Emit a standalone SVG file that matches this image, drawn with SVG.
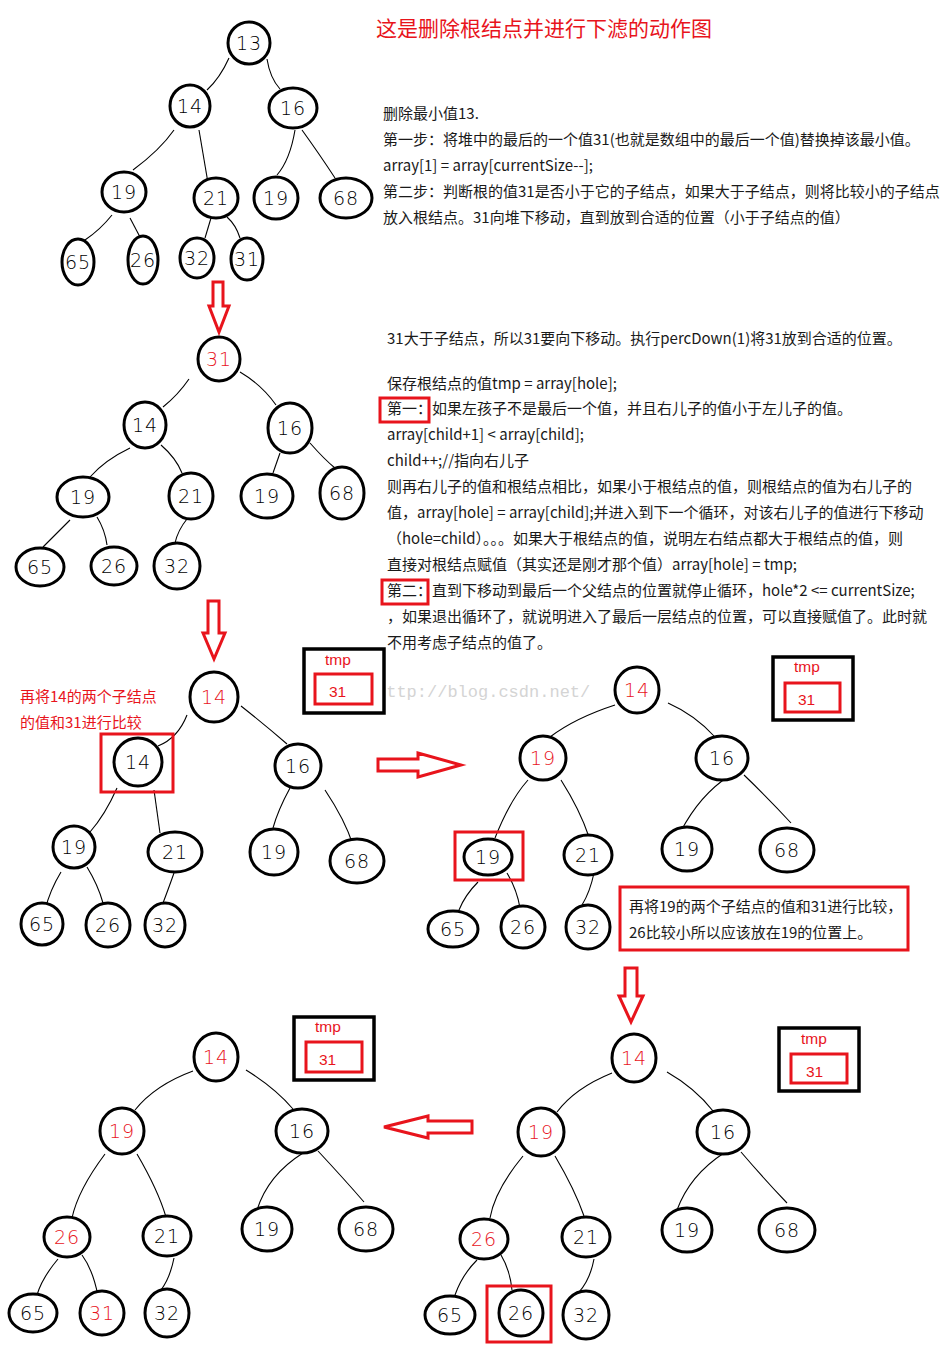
<svg xmlns="http://www.w3.org/2000/svg" width="943" height="1359" viewBox="0 0 943 1359">
<style>
.node ellipse{fill:#fff;stroke:#000;stroke-width:3}
.node text{font-family:"DejaVu Sans","Liberation Sans",sans-serif;font-weight:200;font-size:19px;text-anchor:middle;fill:#000;letter-spacing:1px}
.node text.r{fill:#e8141c}
.edges path{fill:none;stroke:#000;stroke-width:1.1}
.arrow{fill:#fff;stroke:#e8141c;stroke-width:3;stroke-linejoin:miter}
.hl{fill:none;stroke:#e8141c;stroke-width:3}
.tmpbox{fill:#fff;stroke:#000;stroke-width:3.5}
.tmpin{fill:#fff;stroke:#e8141c;stroke-width:3}
.tmpt{font-family:"Liberation Sans","Noto Sans CJK SC",sans-serif;font-size:15.5px;fill:#e8141c}
.txt{font-family:"Noto Sans CJK SC",sans-serif;font-size:15px;fill:#1a1a1a}
.rtxt{font-family:"Noto Sans CJK SC",sans-serif;font-size:15px;fill:#e8141c}
.wm{font-family:"Liberation Mono",monospace;font-size:17px;fill:#d4d4d4}
</style>
<rect width="943" height="1359" fill="#fff"/>
<text class="wm" x="376" y="697">http://blog.csdn.net/</text>
<text x="376" y="36" style="font-family:'Noto Sans CJK SC',sans-serif;font-size:21px;fill:#e8141c">这是删除根结点并进行下滤的动作图</text>
<g id="text-block-1" class="txt">
<text x="383" y="119">删除最小值13.</text>
<text x="383" y="145">第一步：将堆中的最后的一个值31(也就是数组中的最后一个值)替换掉该最小值。</text>
<text x="383" y="171">array[1] = array[currentSize--];</text>
<text x="383" y="197">第二步：判断根的值31是否小于它的子结点，如果大于子结点，则将比较小的子结点</text>
<text x="383" y="223">放入根结点。31向堆下移动，直到放到合适的位置（小于子结点的值）</text>
</g>
<g id="text-block-2" class="txt">
<text x="387" y="344">31大于子结点，所以31要向下移动。执行percDown(1)将31放到合适的位置。</text>
<text x="387" y="389">保存根结点的值tmp = array[hole];</text>
<text x="387" y="414">第一：如果左孩子不是最后一个值，并且右儿子的值小于左儿子的值。</text>
<text x="387" y="440">array[child+1] &lt; array[child];</text>
<text x="387" y="466">child++;//指向右儿子</text>
<text x="387" y="492">则再右儿子的值和根结点相比，如果小于根结点的值，则根结点的值为右儿子的</text>
<text x="387" y="518">值，array[hole] = array[child];并进入到下一个循环，对该右儿子的值进行下移动</text>
<text x="387" y="544">（hole=child）。。。如果大于根结点的值，说明左右结点都大于根结点的值，则</text>
<text x="387" y="570">直接对根结点赋值（其实还是刚才那个值）array[hole] = tmp;</text>
<text x="387" y="596">第二：直到下移动到最后一个父结点的位置就停止循环，hole*2 &lt;= currentSize;</text>
<text x="387" y="622">，如果退出循环了，就说明进入了最后一层结点的位置，可以直接赋值了。此时就</text>
<text x="387" y="648">不用考虑子结点的值了。</text>
<rect class="hl" x="380" y="398" width="49" height="24"/>
<rect class="hl" x="382" y="580" width="46" height="24"/>
</g>
<g id="note-1" class="rtxt">
<text x="20" y="702">再将14的两个子结点</text>
<text x="20" y="728">的值和31进行比较</text>
</g>
<g id="note-2">
<rect class="hl" x="620" y="887" width="288" height="63"/>
<text class="txt" x="629" y="912">再将19的两个子结点的值和31进行比较，</text>
<text class="txt" x="629" y="938">26比较小所以应该放在19的位置上。</text>
</g>
<g id="arrows">
<polygon class="arrow" points="213,282 223,282 223,306 229,306 219,332 209,306 213,306"/>
<polygon class="arrow" points="208,601 219,601 219,633 225,633 214,659 203,633 208,633"/>
<polygon class="arrow" points="625,968 637,968 637,996 643,996 631,1022 619,996 625,996"/>
<polygon class="arrow" points="378,759 418,759 418,753 461,765 418,777 418,771 378,771"/>
<polygon class="arrow" points="472,1121 428,1121 428,1116 384,1127 428,1138 428,1133 472,1133"/>
</g>
<g id="tmp-1"><rect class="tmpbox" x="304" y="649" width="80" height="64"/><rect class="tmpin" x="315" y="674" width="57" height="30"/><text class="tmpt" x="325" y="665">tmp</text><text class="tmpt" x="329" y="697">31</text></g>
<g id="tmp-2"><rect class="tmpbox" x="773" y="657" width="80" height="63"/><rect class="tmpin" x="785" y="683" width="55" height="29"/><text class="tmpt" x="794" y="672">tmp</text><text class="tmpt" x="798" y="705">31</text></g>
<g id="tmp-3"><rect class="tmpbox" x="294" y="1017" width="80" height="63"/><rect class="tmpin" x="306" y="1042" width="56" height="30"/><text class="tmpt" x="315" y="1032">tmp</text><text class="tmpt" x="319" y="1065">31</text></g>
<g id="tmp-4"><rect class="tmpbox" x="779" y="1028" width="80" height="63"/><rect class="tmpin" x="791" y="1054" width="56" height="29"/><text class="tmpt" x="801" y="1044">tmp</text><text class="tmpt" x="806" y="1077">31</text></g>
<g class="edges">
<path d="M229 58 Q220 78 207 90"/><path d="M267 59 Q270 78 280 89"/><path d="M174 130 Q160 150 133 170"/><path d="M199 130 L208 183"/><path d="M295 130 Q290 160 277 175"/><path d="M302 130 Q320 155 335 178"/><path d="M112 215 Q100 230 85 240"/><path d="M130 218 L140 237"/><path d="M211 218 L205 238"/><path d="M227 217 Q236 225 240 238"/>
<path d="M189 379 Q178 395 163 407"/><path d="M240 372 Q262 385 276 405"/><path d="M130 448 Q105 460 90 477"/><path d="M161 445 Q176 458 182 473"/><path d="M280 453 L273 473"/><path d="M310 443 Q325 460 335 468"/><path d="M70 520 Q55 535 43 547"/><path d="M97 517 Q105 530 107 545"/><path d="M187 519 Q178 530 175 543"/>
<path d="M187 715 Q178 738 158 746"/><path d="M241 706 Q265 725 287 744"/><path d="M117 788 Q105 815 90 832"/><path d="M154 790 L160 833"/><path d="M290 788 Q278 810 273 828"/><path d="M325 790 Q345 820 353 845"/><path d="M61 872 Q50 890 45 910"/><path d="M87 867 Q98 885 103 903"/><path d="M174 873 Q168 890 163 903"/>
<path d="M615 705 Q575 718 550 737"/><path d="M668 703 Q695 715 715 737"/><path d="M528 780 Q510 800 495 838"/><path d="M561 780 Q580 810 589 837"/><path d="M729 776 Q700 795 681 831"/><path d="M744 775 Q770 800 791 823"/><path d="M478 882 Q465 895 459 910"/><path d="M507 873 Q517 890 520 908"/><path d="M594 873 Q590 892 582 905"/>
<path d="M612 1073 Q575 1088 557 1112"/><path d="M667 1072 Q695 1088 713 1111"/><path d="M523 1156 Q495 1190 490 1218"/><path d="M555 1156 Q575 1190 584 1216"/><path d="M724 1153 Q690 1175 677 1210"/><path d="M741 1152 Q765 1180 787 1203"/><path d="M477 1260 Q462 1275 455 1295"/><path d="M501 1255 Q510 1270 512 1290"/><path d="M594 1259 Q590 1280 579 1292"/>
<path d="M193 1071 Q155 1085 135 1110"/><path d="M246 1070 Q275 1088 293 1109"/><path d="M105 1154 Q78 1190 72 1218"/><path d="M137 1154 Q158 1190 166 1217"/><path d="M303 1153 Q268 1175 257 1210"/><path d="M318 1151 Q345 1180 364 1202"/><path d="M58 1259 Q42 1278 37 1295"/><path d="M82 1255 Q93 1270 98 1296"/><path d="M174 1258 Q170 1278 161 1290"/>
</g>
<g id="t1-13" class="node"><ellipse cx="249" cy="43" rx="21" ry="21"/><text x="249" y="50">13</text></g>
<g id="t1-14" class="node"><ellipse cx="190" cy="106" rx="20" ry="21"/><text x="190" y="113">14</text></g>
<g id="t1-16" class="node"><ellipse cx="293" cy="108" rx="24" ry="20"/><text x="293" y="115">16</text></g>
<g id="t1-19" class="node"><ellipse cx="124" cy="192" rx="22" ry="20"/><text x="124" y="199">19</text></g>
<g id="t1-21" class="node"><ellipse cx="216" cy="198" rx="22" ry="20"/><text x="216" y="205">21</text></g>
<g id="t1-19b" class="node"><ellipse cx="276" cy="198" rx="22" ry="21"/><text x="276" y="205">19</text></g>
<g id="t1-68" class="node"><ellipse cx="346" cy="198" rx="26" ry="20"/><text x="346" y="205">68</text></g>
<g id="t1-65" class="node"><ellipse cx="78" cy="262" rx="16" ry="23"/><text x="78" y="269">65</text></g>
<g id="t1-26" class="node"><ellipse cx="143" cy="260" rx="15" ry="24"/><text x="143" y="267">26</text></g>
<g id="t1-32" class="node"><ellipse cx="197" cy="258" rx="17" ry="20"/><text x="197" y="265">32</text></g>
<g id="t1-31" class="node"><ellipse cx="247" cy="259" rx="16" ry="21"/><text x="247" y="266">31</text></g>
<g id="t2-31" class="node"><ellipse cx="219" cy="359" rx="21" ry="22"/><text class="r" x="219" y="366">31</text></g>
<g id="t2-14" class="node"><ellipse cx="145" cy="425" rx="21" ry="23"/><text x="145" y="432">14</text></g>
<g id="t2-16" class="node"><ellipse cx="290" cy="428" rx="22" ry="25"/><text x="290" y="435">16</text></g>
<g id="t2-19" class="node"><ellipse cx="83" cy="497" rx="26" ry="20"/><text x="83" y="504">19</text></g>
<g id="t2-21" class="node"><ellipse cx="191" cy="496" rx="22" ry="23"/><text x="191" y="503">21</text></g>
<g id="t2-19b" class="node"><ellipse cx="267" cy="496" rx="26" ry="22"/><text x="267" y="503">19</text></g>
<g id="t2-68" class="node"><ellipse cx="342" cy="493" rx="22" ry="26"/><text x="342" y="500">68</text></g>
<g id="t2-65" class="node"><ellipse cx="40" cy="567" rx="24" ry="19"/><text x="40" y="574">65</text></g>
<g id="t2-26" class="node"><ellipse cx="114" cy="566" rx="23" ry="19"/><text x="114" y="573">26</text></g>
<g id="t2-32" class="node"><ellipse cx="177" cy="566" rx="23" ry="23"/><text x="177" y="573">32</text></g>
<g id="t3-14" class="node"><ellipse cx="214" cy="697" rx="24" ry="25"/><text class="r" x="214" y="704">14</text></g>
<g id="t3-14b" class="node"><rect class="hl" x="101" y="734" width="72" height="58"/><ellipse cx="138" cy="762" rx="24" ry="24"/><text x="138" y="769">14</text></g>
<g id="t3-16" class="node"><ellipse cx="298" cy="766" rx="23" ry="22"/><text x="298" y="773">16</text></g>
<g id="t3-19" class="node"><ellipse cx="74" cy="847" rx="21" ry="21"/><text x="74" y="854">19</text></g>
<g id="t3-21" class="node"><ellipse cx="175" cy="852" rx="27" ry="20"/><text x="175" y="859">21</text></g>
<g id="t3-19b" class="node"><ellipse cx="274" cy="852" rx="24" ry="23"/><text x="274" y="859">19</text></g>
<g id="t3-68" class="node"><ellipse cx="357" cy="861" rx="27" ry="22"/><text x="357" y="868">68</text></g>
<g id="t3-65" class="node"><ellipse cx="42" cy="924" rx="21" ry="21"/><text x="42" y="931">65</text></g>
<g id="t3-26" class="node"><ellipse cx="108" cy="925" rx="22" ry="22"/><text x="108" y="932">26</text></g>
<g id="t3-32" class="node"><ellipse cx="165" cy="925" rx="20" ry="22"/><text x="165" y="932">32</text></g>
<g id="t4-14" class="node"><ellipse cx="637" cy="690" rx="22" ry="23"/><text class="r" x="637" y="697">14</text></g>
<g id="t4-19" class="node"><ellipse cx="543" cy="758" rx="23" ry="22"/><text class="r" x="543" y="765">19</text></g>
<g id="t4-16" class="node"><ellipse cx="722" cy="758" rx="26" ry="22"/><text x="722" y="765">16</text></g>
<g id="t4-19box" class="node"><rect class="hl" x="455" y="832" width="68" height="48"/><ellipse cx="488" cy="857" rx="24" ry="18"/><text x="488" y="864">19</text></g>
<g id="t4-21" class="node"><ellipse cx="588" cy="855" rx="24" ry="20"/><text x="588" y="862">21</text></g>
<g id="t4-19b" class="node"><ellipse cx="687" cy="849" rx="25" ry="22"/><text x="687" y="856">19</text></g>
<g id="t4-68" class="node"><ellipse cx="787" cy="850" rx="27" ry="22"/><text x="787" y="857">68</text></g>
<g id="t4-65" class="node"><ellipse cx="453" cy="929" rx="25" ry="18"/><text x="453" y="936">65</text></g>
<g id="t4-26" class="node"><ellipse cx="523" cy="927" rx="22" ry="21"/><text x="523" y="934">26</text></g>
<g id="t4-32" class="node"><ellipse cx="588" cy="927" rx="22" ry="22"/><text x="588" y="934">32</text></g>
<g id="t5-14" class="node"><ellipse cx="634" cy="1058" rx="22" ry="24"/><text class="r" x="634" y="1065">14</text></g>
<g id="t5-19" class="node"><ellipse cx="541" cy="1132" rx="23" ry="24"/><text class="r" x="541" y="1139">19</text></g>
<g id="t5-16" class="node"><ellipse cx="723" cy="1132" rx="26" ry="22"/><text x="723" y="1139">16</text></g>
<g id="t5-26r" class="node"><ellipse cx="484" cy="1239" rx="24" ry="20"/><text class="r" x="484" y="1246">26</text></g>
<g id="t5-21" class="node"><ellipse cx="586" cy="1237" rx="24" ry="20"/><text x="586" y="1244">21</text></g>
<g id="t5-19b" class="node"><ellipse cx="687" cy="1230" rx="25" ry="22"/><text x="687" y="1237">19</text></g>
<g id="t5-68" class="node"><ellipse cx="787" cy="1230" rx="28" ry="22"/><text x="787" y="1237">68</text></g>
<g id="t5-65" class="node"><ellipse cx="450" cy="1315" rx="25" ry="19"/><text x="450" y="1322">65</text></g>
<g id="t5-26box" class="node"><rect class="hl" x="487" y="1286" width="64" height="56"/><ellipse cx="521" cy="1313" rx="22" ry="23"/><text x="521" y="1320">26</text></g>
<g id="t5-32" class="node"><ellipse cx="586" cy="1315" rx="23" ry="24"/><text x="586" y="1322">32</text></g>
<g id="t6-14" class="node"><ellipse cx="216" cy="1057" rx="22" ry="24"/><text class="r" x="216" y="1064">14</text></g>
<g id="t6-19" class="node"><ellipse cx="122" cy="1131" rx="22" ry="23"/><text class="r" x="122" y="1138">19</text></g>
<g id="t6-16" class="node"><ellipse cx="302" cy="1131" rx="26" ry="22"/><text x="302" y="1138">16</text></g>
<g id="t6-26" class="node"><ellipse cx="67" cy="1237" rx="23" ry="20"/><text class="r" x="67" y="1244">26</text></g>
<g id="t6-21" class="node"><ellipse cx="167" cy="1236" rx="24" ry="20"/><text x="167" y="1243">21</text></g>
<g id="t6-19b" class="node"><ellipse cx="267" cy="1229" rx="25" ry="22"/><text x="267" y="1236">19</text></g>
<g id="t6-68" class="node"><ellipse cx="366" cy="1229" rx="27" ry="22"/><text x="366" y="1236">68</text></g>
<g id="t6-65" class="node"><ellipse cx="33" cy="1313" rx="24" ry="19"/><text x="33" y="1320">65</text></g>
<g id="t6-31" class="node"><ellipse cx="102" cy="1313" rx="22" ry="22"/><text class="r" x="102" y="1320">31</text></g>
<g id="t6-32" class="node"><ellipse cx="167" cy="1313" rx="22" ry="24"/><text x="167" y="1320">32</text></g>
</svg>
